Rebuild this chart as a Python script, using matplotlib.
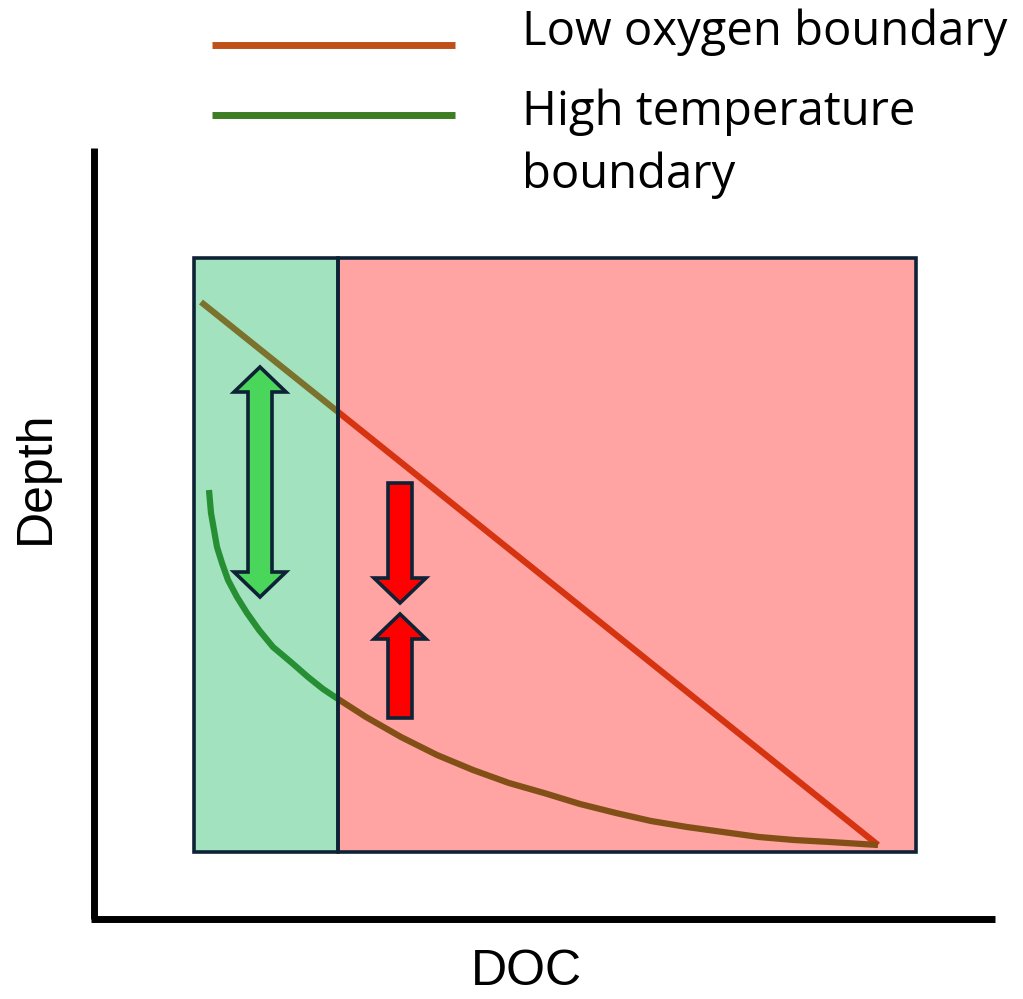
import matplotlib
matplotlib.use("Agg")
import matplotlib.pyplot as plt
from matplotlib.patches import Rectangle, Polygon

# canvas is laid out in pixel units of the reference (y grows downward)
W, H = 1023, 999

# boxes: (left, right, top, bottom, fill)
boxes = [
    (194, 338, 258, 852, "#00B050"),
    (338, 916, 258, 852, "#FF0000"),
]

# low oxygen boundary (straight line)
oxy_x = [201, 878]
oxy_y = [302, 845]

# high temperature boundary (curve)
temp_x = [209, 211, 217, 222, 228, 237, 247, 259, 273, 292, 308, 323, 338, 366, 401,
          437, 473, 509, 544, 580, 616, 651, 687, 723, 759, 794, 830, 878]
temp_y = [490, 513, 547, 563, 580, 597, 613, 630, 647, 663, 677, 689, 699, 717, 737,
          755, 770, 783, 793, 804, 813, 821, 827, 832, 837, 840, 842, 845]

# arrows: (x, tail_y, tip_y, fill, double)
arrows = [
    (260, 597, 367, "#4AD55B", True),
    (400, 483, 603, "#FF0000", False),
    (400, 718, 614, "#FF0000", False),
]

legend_items = [
    ("Low oxygen boundary", "#C0501A", 45, 32),
    ("High temperature\nboundary", "#3D7D23", 115, 112),
]

EDGE = "#0E2236"


def arrow_poly(x, y0, y1, double, shaft=24, head=52, hl=25):
    s = 1 if y1 > y0 else -1
    hb = y1 - s * hl          # base of the head at the tip end
    tb = y0 + s * hl          # base of the head at the tail end
    if double:
        left = [(x, y0), (x - head / 2, tb), (x - shaft / 2, tb)]
        right = [(x + shaft / 2, tb), (x + head / 2, tb)]
    else:
        left = [(x - shaft / 2, y0)]
        right = [(x + shaft / 2, y0)]
    mid = [(x - shaft / 2, hb), (x - head / 2, hb), (x, y1),
           (x + head / 2, hb), (x + shaft / 2, hb)]
    return left + mid + right


fig = plt.figure(figsize=(W / 100, H / 100), dpi=100)
ax = fig.add_axes([0, 0, 1, 1])
ax.set_xlim(0, W)
ax.set_ylim(H, 0)
ax.axis("off")

# boundary lines sit under the translucent boxes
ax.plot(oxy_x, oxy_y, color=legend_items[0][1], lw=4.5, zorder=1, solid_capstyle="butt")
ax.plot(temp_x, temp_y, color=legend_items[1][1], lw=4.5, zorder=1,
        solid_capstyle="butt", solid_joinstyle="round")

for l, r, t, b, c in boxes:
    ax.add_patch(Rectangle((l, t), r - l, b - t, facecolor=c, alpha=0.36, lw=0, zorder=2))
    ax.add_patch(Rectangle((l, t), r - l, b - t, facecolor="none", edgecolor=EDGE, lw=2.6, zorder=3))

for x, y0, y1, c, dbl in arrows:
    ax.add_patch(Polygon(arrow_poly(x, y0, y1, dbl), closed=True, facecolor=c,
                         edgecolor=EDGE, lw=2.6, joinstyle="miter", zorder=4))

# axes lines
ax.plot([94, 94], [148, 919], color="black", lw=5, solid_capstyle="butt")
ax.plot([91, 995], [919, 919], color="black", lw=5, solid_capstyle="butt")

ax.text(36, 477, "Depth", rotation=90, ha="center", va="center", fontsize=36,
        family="Liberation Sans")
ax.text(526, 972, "DOC", ha="center", va="center", fontsize=36, family="Liberation Sans")

# legend
for label, c, y, ty in legend_items:
    ax.plot([212, 455], [y, y], color=c, lw=5, solid_capstyle="butt")
    for i, part in enumerate(label.split("\n")):
        ax.text(522, ty + 63 * i, part, ha="left", va="center", fontsize=34,
                family="Open Sans")

fig.savefig("out.png", dpi=100)
